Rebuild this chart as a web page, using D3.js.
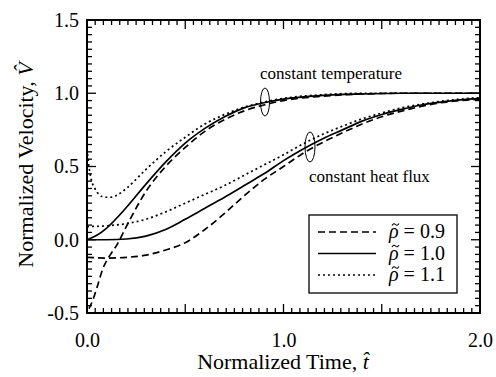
<!DOCTYPE html>
<html><head><meta charset="utf-8">
<script src="https://cdn.jsdelivr.net/npm/d3@7/dist/d3.min.js"></script>
<style>body{margin:0;background:#fff}svg{display:block}text{font-family:"Liberation Serif","Times New Roman","DejaVu Serif",serif;fill:#000}</style>
</head><body><svg id="c" width="496" height="377"></svg>
<script>
// Data (t, V)
const tempT   = [0,0.05,0.1,0.2,0.3,0.4,0.5,0.6,0.7,0.8,0.9,1.0,1.2,1.4,1.6,2.0];
const temp10  = [0,0.03,0.08,0.22,0.38,0.53,0.66,0.76,0.84,0.9,0.935,0.96,0.985,0.995,1.0,1.0];
const temp09T = [0.01,0.03,0.05,0.08,0.12,0.15,0.2,0.3,0.4,0.5,0.6,0.7,0.8,0.9,1.0,1.2,1.4,1.6,2.0];
const temp09  = [-0.47,-0.41,-0.33,-0.2,-0.1,-0.04,0.09,0.33,0.5,0.63,0.74,0.82,0.88,0.92,0.95,0.98,0.995,1.0,1.0];
const temp11T = [0,0.01,0.02,0.04,0.06,0.09,0.12,0.16,0.2,0.3,0.4,0.5,0.6,0.7,0.8,0.9,1.0,1.2,1.4,2.0];
const temp11  = [0.62,0.5,0.42,0.35,0.31,0.29,0.29,0.31,0.35,0.48,0.6,0.7,0.79,0.855,0.905,0.94,0.965,0.99,1.0,1.0];
const fluxT   = [0,0.1,0.2,0.3,0.4,0.5,0.6,0.7,0.8,0.9,1.0,1.1,1.2,1.3,1.4,1.5,1.6,1.7,1.8,1.9,2.0];
const flux10  = [0,0,0.005,0.025,0.07,0.14,0.215,0.29,0.37,0.45,0.54,0.62,0.69,0.75,0.81,0.855,0.89,0.92,0.94,0.955,0.965];
const flux09  = [-0.12,-0.125,-0.12,-0.105,-0.07,-0.02,0.07,0.18,0.3,0.41,0.5,0.59,0.665,0.73,0.79,0.84,0.878,0.91,0.935,0.95,0.96];
const flux11  = [0.09,0.095,0.11,0.14,0.19,0.25,0.31,0.37,0.44,0.51,0.58,0.655,0.72,0.775,0.825,0.865,0.9,0.925,0.945,0.96,0.97];
const xTicks = [0.0,1.0,2.0];
const yTicks = [-0.5,0.0,0.5,1.0,1.5];
const legendLabels = ["0.9","1.0","1.1"];

const svg = d3.select("#c");
const X0=87, X1=480, Y0=20, Y1=313;
const x = d3.scaleLinear().domain([0,2]).range([X0,X1]);
const y = d3.scaleLinear().domain([-0.5,1.5]).range([Y1,Y0]);

const styles = {"0.9":{dash:"7,4"},"1.0":{dash:null},"1.1":{dash:"2,3"}};
const line = d3.line().x(d=>x(d[0])).y(d=>y(d[1])).curve(d3.curveMonotoneX);
function draw(ts, vs, key){
  const p = svg.append("path").datum(ts.map((t,i)=>[t,vs[i]]))
    .attr("d",line).attr("fill","none").attr("stroke","#000").attr("stroke-width",1.7);
  if(styles[key].dash) p.attr("stroke-dasharray",styles[key].dash);
}
draw(tempT,temp10,"1.0"); draw(temp09T,temp09,"0.9"); draw(temp11T,temp11,"1.1");
draw(fluxT,flux10,"1.0"); draw(fluxT,flux09,"0.9"); draw(fluxT,flux11,"1.1");

// ticks (inward, all four sides)
const xMinor = d3.range(0,2.0001,0.5/12);
const yMinor = d3.range(-0.5,1.5001,0.05);
const g = svg.append("g").attr("stroke","#000").attr("stroke-width",1.3);
xMinor.forEach(t=>{
  const major = Math.abs(t*2-Math.round(t*2))<1e-6;
  const L = major?9:5;
  g.append("line").attr("x1",x(t)).attr("x2",x(t)).attr("y1",Y1).attr("y2",Y1-L);
  g.append("line").attr("x1",x(t)).attr("x2",x(t)).attr("y1",Y0).attr("y2",Y0+L);
});
yMinor.forEach(v=>{
  const major = Math.abs(v*2-Math.round(v*2))<1e-6;
  const L = major?9:5;
  g.append("line").attr("y1",y(v)).attr("y2",y(v)).attr("x1",X0).attr("x2",X0+L);
  g.append("line").attr("y1",y(v)).attr("y2",y(v)).attr("x1",X1).attr("x2",X1-L);
});
svg.append("rect").attr("x",X0).attr("y",Y0).attr("width",X1-X0).attr("height",Y1-Y0)
  .attr("fill","none").attr("stroke","#000").attr("stroke-width",2);

// tick labels via axes
const xAxis = svg.append("g").attr("transform",`translate(0,${Y1})`)
  .call(d3.axisBottom(x).tickValues(xTicks).tickFormat(d3.format(".1f")).tickSize(0).tickPadding(20));
const yAxis = svg.append("g").attr("transform",`translate(${X0},0)`)
  .call(d3.axisLeft(y).tickValues(yTicks).tickFormat(d=>d<0?"-"+d3.format(".1f")(-d):d3.format(".1f")(d)).tickSize(0).tickPadding(8));
[xAxis,yAxis].forEach(a=>{a.attr("font-family",null); a.select(".domain").remove(); a.selectAll("text").attr("font-size",20);});

// axis titles
svg.append("text").attr("x",283).attr("y",369).attr("text-anchor","middle").attr("font-size",22)
  .html('Normalized Time, <tspan font-style="italic">t&#770;</tspan>');
svg.append("text").attr("transform","translate(33,165) rotate(-90)").attr("text-anchor","middle").attr("font-size",22)
  .html('Normalized Velocity, <tspan font-style="italic">V&#770;</tspan>');

// annotations
svg.append("text").attr("x",260).attr("y",79).attr("font-size",17).text("constant temperature");
svg.append("ellipse").attr("cx",265).attr("cy",102).attr("rx",4.5).attr("ry",14).attr("fill","none").attr("stroke","#000").attr("stroke-width",1);
svg.append("text").attr("x",309).attr("y",182).attr("font-size",17).text("constant heat flux");
svg.append("ellipse").attr("cx",310).attr("cy",147).attr("rx",5).attr("ry",15).attr("fill","none").attr("stroke","#000").attr("stroke-width",1);

// legend
const LX=309, LY=215, LW=148, LH=78;
svg.append("rect").attr("x",LX).attr("y",LY).attr("width",LW).attr("height",LH).attr("fill","#fff").attr("stroke","#000").attr("stroke-width",1.3);
legendLabels.forEach((k,i)=>{
  const cy = LY+17+i*21.5;
  const l = svg.append("line").attr("x1",LX+9).attr("x2",LX+67).attr("y1",cy).attr("y2",cy).attr("stroke","#000").attr("stroke-width",1.7);
  if(styles[k].dash) l.attr("stroke-dasharray",styles[k].dash);
  const tx = LX+80, by = cy+6;
  svg.append("text").attr("x",tx).attr("y",by).attr("font-size",20)
    .html(`<tspan font-style="italic">&#961;</tspan> = ${k}`);
  // tilde accent drawn over the rho
  const ax = tx+6.5, ay = by-13.5;
  svg.append("path").attr("d",`M${ax-3.5},${ay+1} Q${ax-1.75},${ay-2} ${ax},${ay} T${ax+3.5},${ay-1}`)
    .attr("fill","none").attr("stroke","#000").attr("stroke-width",1.1);
});
</script></body></html>
